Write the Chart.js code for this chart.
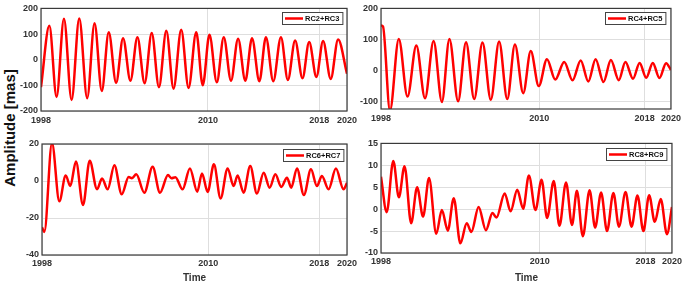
<!DOCTYPE html>
<html>
<head>
<meta charset="utf-8">
<script src="https://cdn.jsdelivr.net/npm/chart.js@4"></script>
<style>
  html, body { margin: 0; padding: 0; background: #fff; overflow: hidden; width: 685px; height: 284px; }
  canvas { position: absolute; }
  #ylab {
    position: absolute; left: 9px; top: 128px;
    transform: translate(-50%, -50%) rotate(-90deg);
    font: bold 15px "Liberation Sans", Arial, sans-serif;
    white-space: nowrap; color: #111;
  }
</style>
</head>
<body>
<div id="ylab">Amplitude [mas]</div>
<canvas id="rc23" width="362" height="135" style="left:0;top:0"></canvas>
<canvas id="rc45" width="340" height="135" style="left:345px;top:0"></canvas>
<canvas id="rc67" width="362" height="149" style="left:0;top:135px"></canvas>
<canvas id="rc89" width="340" height="149" style="left:345px;top:135px"></canvas>
<script>
// tick labels shared by all panels
const xTicks = [1998, 2010, 2018, 2020];

// RC2+RC3 (peaks / troughs)
const rc23Years = [1998.00, 1998.60, 1999.12, 1999.65, 2000.20, 2000.75, 2001.32, 2001.85, 2002.37, 2002.87,
  2003.40, 2003.90, 2004.43, 2004.93, 2005.45, 2005.96, 2006.48, 2007.01, 2007.53, 2008.08, 2008.61,
  2009.16, 2009.63, 2010.11, 2010.64, 2011.14, 2011.66, 2012.17, 2012.69, 2013.17, 2013.70, 2014.17,
  2014.70, 2015.25, 2015.75, 2016.27, 2016.80, 2017.28, 2017.80, 2018.28, 2018.83, 2019.36, 2020.00];
const rc23Amp = [-107, 132, -145, 160, -157, 161, -150, 142, -122, 107, -90, 84, -82, 88, -92, 104, -107,
  113, -113, 117, -110, 107, -100, 97, -88, 88, -82, 82, -82, 84, -84, 88, -84, 88, -79, 75, -72, 69, -67,
  73, -75, 79, -55];
const rc23YTicks = [-200, -100, 0, 100, 200];

// RC4+RC5
const rc45Years = [1998.00, 1998.15, 1998.68, 1999.35, 2000.01, 2000.68, 2001.34, 2001.99, 2002.62, 2003.19,
  2003.85, 2004.45, 2005.07, 2005.70, 2006.33, 2006.96, 2007.58, 2008.16, 2008.79, 2009.36, 2009.97,
  2010.59, 2011.22, 2011.90, 2012.53, 2013.15, 2013.73, 2014.28, 2014.88, 2015.44, 2016.04, 2016.54,
  2017.12, 2017.62, 2018.12, 2018.62, 2019.12, 2019.63, 2020.00];
const rc45Amp = [145, 142, -130, 101, -85, 80, -90, 95, -102, 101, -100, 91, -93, 90, -95, 93, -93, 83, -74,
  62, -51, 36, -30, 27, -32, 32, -36, 36, -38, 33, -32, 27, -27, 24, -24, 24, -25, 23, 1];
const rc45YTicks = [-100, 0, 100, 200];

// RC6+RC7
const rc67Years = [1998.00, 1998.17, 1998.72, 1999.25, 1999.71, 2000.04, 2000.45, 2000.96, 2001.44, 2001.97,
  2002.33, 2002.74, 2003.22, 2003.75, 2004.25, 2004.49, 2004.80, 2005.38, 2005.98, 2006.51, 2007.09,
  2007.33, 2007.62, 2008.14, 2008.67, 2009.20, 2009.54, 2009.95, 2010.40, 2010.88, 2011.39, 2011.82,
  2012.11, 2012.54, 2013.02, 2013.50, 2013.99, 2014.42, 2014.83, 2015.26, 2015.67, 2015.98, 2016.39,
  2016.89, 2017.40, 2017.83, 2018.19, 2018.67, 2019.20, 2019.75, 2020.00];
const rc67Amp = [-25, -27.5, 20.5, -11, 3, -2.7, 10.5, -13, 11, -4.5, 1.3, -4.5, 8.5, -7.2, 2.2, 1.5, 3.6,
  -6.3, 7.7, -6.3, 3.2, 1.5, 2, -4.5, 6.8, -5.8, 4.1, -5.9, 9, -9.4, 6.8, -2.7, 3, -6.3, 8.1, -6.8, 4.5,
  -3.6, 3.6, -3.2, 1.8, -3.6, 6.8, -7.6, 6.3, -2.7, 2.7, -4.5, 6.7, -4.5, -1];
const rc67YTicks = [-40, -20, 0, 20];

// RC8+RC9
const rc89Years = [1998.00, 1998.43, 1998.93, 1999.35, 1999.78, 2000.28, 2000.73, 2001.18, 2001.63, 2002.18,
  2002.60, 2003.05, 2003.50, 2004.00, 2004.48, 2004.83, 2005.38, 2005.93, 2006.43, 2006.73, 2007.35,
  2007.80, 2008.30, 2008.75, 2009.18, 2009.68, 2010.14, 2010.56, 2011.06, 2011.49, 2011.99, 2012.44,
  2012.81, 2013.26, 2013.77, 2014.19, 2014.64, 2015.09, 2015.57, 2015.99, 2016.49, 2016.94, 2017.39,
  2017.84, 2018.27, 2018.70, 2019.15, 2019.62, 2020.00];
const rc89Amp = [7.4, -0.7, 11, 2.7, 9.8, -3.2, 5, -1.7, 7.1, -5.6, -0.2, -4.9, 2.5, -7.8, -3.2, -5.2, 0.5,
  -4.8, -0.9, -1.9, 3.6, -0.5, 4.4, 0.1, 7.7, -0.2, 6.7, -2, 6.4, -3.8, 6.1, -3.6, 4.2, -6.2, 4.3, -4.2,
  3.8, -5, 3.7, -4, 3.9, -4, 3.1, -5, 3.2, -2.9, 2.3, -5.7, 0.5];
const rc89YTicks = [-10, -5, 0, 5, 10, 15];

const FONT = '"Liberation Sans", Arial, sans-serif';

// axes box + matlab style legend in the upper right corner
const frameLegend = {
  id: "frameLegend",
  afterDraw(chart, args, opts) {
    const ctx = chart.ctx;
    const a = chart.chartArea;
    ctx.save();
    ctx.strokeStyle = "#3a3a3a";
    ctx.lineWidth = 1.2;
    ctx.strokeRect(a.left, a.top, a.right - a.left, a.bottom - a.top);

    const label = chart.data.datasets[0].label;
    ctx.font = "bold 7.5px " + FONT;
    const tw = ctx.measureText(label).width;
    const w = tw + 26, h = 12;
    const x = Math.round(a.right - opts.dx - w), y = Math.round(a.top + opts.dy);
    ctx.fillStyle = "#fff";
    ctx.fillRect(x, y, w, h);
    ctx.lineWidth = 1;
    ctx.strokeStyle = "#444";
    ctx.strokeRect(x + 0.5, y + 0.5, w, h);
    ctx.strokeStyle = "#ff0000";
    ctx.lineWidth = 2.5;
    ctx.beginPath();
    ctx.moveTo(x + 3, y + h / 2 + 0.5);
    ctx.lineTo(x + 21, y + h / 2 + 0.5);
    ctx.stroke();
    ctx.fillStyle = "#111";
    ctx.textBaseline = "middle";
    ctx.fillText(label, x + 23, y + h / 2 + 1);
    ctx.restore();
  },
};

function makePanel(id, label, years, amp, yTicks, cfg) {
  const ctx = document.getElementById(id).getContext("2d");
  return new Chart(ctx, {
    type: "line",
    data: {
      datasets: [{
        label: label,
        data: years.map((t, i) => ({ x: t, y: amp[i] })),
        borderColor: "#ff0000",
        borderWidth: 2.5,
        pointRadius: 0,
        fill: false,
        cubicInterpolationMode: "monotone",
      }],
    },
    options: {
      responsive: false,
      animation: false,
      layout: { padding: cfg.pad },
      plugins: {
        legend: { display: false },
        tooltip: { enabled: false },
        frameLegend: { dx: cfg.legDx, dy: cfg.legDy },
      },
      scales: {
        x: {
          type: "linear",
          min: 1998,
          max: 2020,
          afterBuildTicks: (s) => { s.ticks = xTicks.map((v) => ({ value: v })); },
          afterFit: (s) => { s.height = cfg.xHeight; },
          border: { display: false },
          grid: { color: "#dedede", lineWidth: 1, drawTicks: false },
          ticks: {
            padding: cfg.xPad,
            maxRotation: 0,
            color: "#333",
            font: { family: FONT, size: 9, weight: "bold" },
            callback: (v) => String(v),
          },
          title: {
            display: cfg.showTime,
            text: "Time",
            color: "#333",
            padding: 0,
            font: { family: FONT, size: 10, weight: "bold" },
          },
        },
        y: {
          min: cfg.yMin,
          max: cfg.yMax,
          afterBuildTicks: (s) => { s.ticks = yTicks.map((v) => ({ value: v })); },
          afterFit: (s) => { s.width = cfg.yWidth; },
          border: { display: false },
          grid: { color: "#dedede", lineWidth: 1, drawTicks: false },
          ticks: {
            padding: 3,
            color: "#333",
            font: { family: FONT, size: 9, weight: "bold" },
            callback: (v) => String(v),
          },
        },
      },
    },
    plugins: [frameLegend],
  });
}

makePanel("rc23", "RC2+RC3", rc23Years, rc23Amp, rc23YTicks, {
  yMin: -200, yMax: 200, pad: { top: 5, right: 15, bottom: 0, left: 0 },
  yWidth: 41, xHeight: 24, xPad: 4, showTime: false, legDx: 5, legDy: 4,
});
makePanel("rc45", "RC4+RC5", rc45Years, rc45Amp, rc45YTicks, {
  yMin: -125, yMax: 200, pad: { top: 6, right: 11, bottom: 0, left: 0 },
  yWidth: 36, xHeight: 26, xPad: 4, showTime: false, legDx: 6, legDy: 4,
});
makePanel("rc67", "RC6+RC7", rc67Years, rc67Amp, rc67YTicks, {
  yMin: -40, yMax: 20, pad: { top: 9, right: 15, bottom: 0, left: 0 },
  yWidth: 42, xHeight: 29, xPad: 3, showTime: true, legDx: 4, legDy: 5,
});
makePanel("rc89", "RC8+RC9", rc89Years, rc89Amp, rc89YTicks, {
  yMin: -10, yMax: 15, pad: { top: 7, right: 11, bottom: 0, left: 0 },
  yWidth: 36, xHeight: 31, xPad: 3, showTime: true, legDx: 6, legDy: 5,
});
</script>
</body>
</html>
